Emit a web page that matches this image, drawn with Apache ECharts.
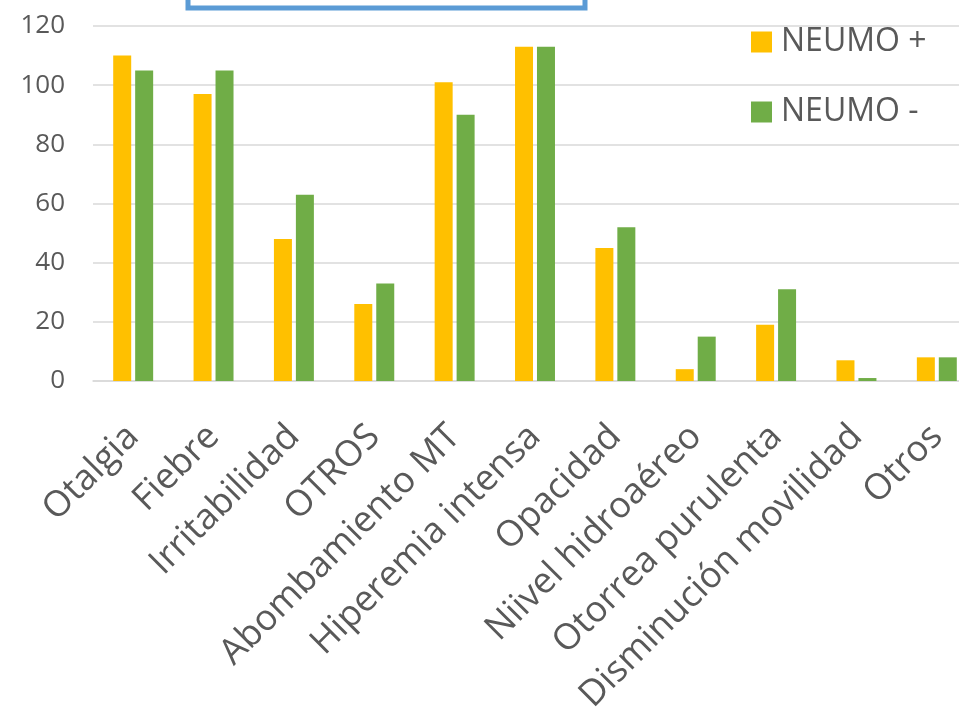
<!DOCTYPE html>
<html>
<head>
<meta charset="utf-8">
<title>NEUMO</title>
<style>
html,body { height:100%; width:100%; margin:0; padding:0; background:#fff; }
#chart { width:959px; height:711px; }
</style>
<script src="https://cdn.jsdelivr.net/npm/echarts@6/dist/echarts.min.js"></script>
</head>
<body>
<div id="chart"></div>
<script type="text/javascript">
// categorias del eje x
var categorias = ['Otalgia', 'Fiebre', 'Irritabilidad', 'OTROS', 'Abombamiento MT',
	'Hiperemia intensa', 'Opacidad', 'Niivel hidroaéreo', 'Otorrea purulenta',
	'Disminución movilidad', 'Otros'];
var neumoPos = [110, 97, 48, 26, 101, 113, 45, 4, 19, 7, 8];
var neumoNeg = [105, 105, 63, 33, 90, 113, 52, 15, 31, 1, 8];
var yTicks = [0, 20, 40, 60, 80, 100, 120];

var font = '"Open Sans", "Liberation Sans", sans-serif';
var gris = '#595959';

var myChart = echarts.init(document.getElementById('chart'));
var option = {
	animation: false,
	backgroundColor: '#fff',
	// el area de trazado sigue un poco mas alla del borde derecho
	grid: { left: 93, width: 884, top: 26, bottom: 330, containLabel: false, outerBoundsMode: 'none' },
	legend: {
		orient: 'vertical',
		left: 751,
		top: 26,
		padding: 0,
		itemWidth: 21,
		itemHeight: 21,
		itemGap: 38,
		icon: 'rect',
		textStyle: { color: gris, fontSize: 32, fontFamily: font, padding: [0, 0, 0, 4] },
		data: ['NEUMO +', 'NEUMO -']
	},
	xAxis: {
		type: 'category',
		data: categorias,
		axisLine: { lineStyle: { color: '#D9D9D9', width: 1.5 } },
		axisTick: { show: false },
		axisLabel: {
			rotate: 45,
			interval: 0,
			margin: 50,
			color: gris,
			fontSize: 36,
			fontFamily: font
		}
	},
	yAxis: {
		type: 'value',
		min: yTicks[0],
		max: yTicks[yTicks.length - 1],
		interval: 20,
		axisLine: { show: false },
		axisTick: { show: false },
		splitLine: { lineStyle: { color: '#D9D9D9', width: 1.5 } },
		axisLabel: { color: gris, fontSize: 26, fontFamily: font, margin: 28 }
	},
	series: [
		{
			name: 'NEUMO +',
			type: 'bar',
			data: neumoPos,
			barWidth: 18,
			barGap: '22%',
			itemStyle: { color: '#FFC000' }
		},
		{
			name: 'NEUMO -',
			type: 'bar',
			data: neumoNeg,
			barWidth: 18,
			barGap: '22%',
			itemStyle: { color: '#70AD47' }
		}
	],
	graphic: [{
		type: 'rect',
		shape: { x: 188, y: -20, width: 397, height: 28 },
		style: { fill: 'none', stroke: '#5B9BD5', lineWidth: 5 }
	}]
};
myChart.setOption(option);
</script>
</body>
</html>
